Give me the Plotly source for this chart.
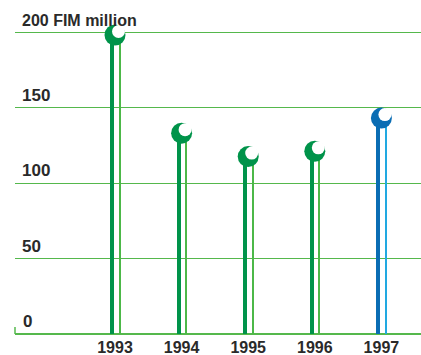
import plotly.graph_objects as go

# ---- data ----
years = [1993, 1994, 1995, 1996, 1997]
values = [198, 133, 117.5, 121, 143]
y_ticks = [0, 50, 100, 150, 200]
y_tick_labels = ["0", "50", "100", "150", "200 FIM million"]
dark_colors = ["#00934a", "#00934a", "#00934a", "#00934a", "#0a6db4"]
light_colors = ["#4cb848", "#4cb848", "#4cb848", "#4cb848", "#22a9e1"]

# ---- geometry (pixels -> data units) ----
W, H = 421, 355
ml, mr, mt, mb = 15, 0, 30, 19
px_per_year = 66.6
x_left = years[0] - (115 - ml) / px_per_year
x_right = years[0] + (W - 115) / px_per_year
plot_h = H - mt - mb
px_per_unit = 302 / 200.0
y_min = -2 / px_per_unit
y_max = y_min + plot_h / px_per_unit

def dx(px):
    return px / px_per_year

def dy(px):
    return px / px_per_unit

FONT = "Liberation Sans, Arial, sans-serif"
TEXT = "#2a2a2a"
GRID = "#55b84c"

fig = go.Figure()

# thick dark stem
fig.add_trace(go.Bar(
    x=years, y=values, base=0,
    width=dx(4), offset=dx(-5),
    marker=dict(color=dark_colors, line=dict(width=0)),
    hoverinfo="skip", showlegend=False,
))
# thin light stem
fig.add_trace(go.Bar(
    x=years, y=values, base=0,
    width=dx(2), offset=dx(3.5),
    marker=dict(color=light_colors, line=dict(width=0)),
    hoverinfo="skip", showlegend=False,
))
# ball head
fig.add_trace(go.Scatter(
    x=years, y=values, mode="markers",
    marker=dict(size=21, color=dark_colors, line=dict(width=0)),
    cliponaxis=False, hoverinfo="skip", showlegend=False,
))
# white highlight
fig.add_trace(go.Scatter(
    x=[y + dx(3.5) for y in years], y=[v + dy(3.5) for v in values],
    mode="markers",
    marker=dict(size=13, color="white", line=dict(width=0)),
    cliponaxis=False, hoverinfo="skip", showlegend=False,
))

# y labels above gridlines
for v, lab in zip(y_ticks, y_tick_labels):
    fig.add_annotation(
        x=0, xref="paper", y=v, yref="y",
        xanchor="left", yanchor="bottom",
        xshift=5 if v else 6, yshift=1,
        text="<b>" + lab + "</b>", showarrow=False,
        font=dict(family=FONT, size=16 if v == 200 else 17, color=TEXT),
    )

# small corner tick at bottom-left
fig.add_shape(type="line", xref="paper", yref="y",
              x0=0, x1=0, y0=0, y1=dy(7),
              line=dict(color=GRID, width=1.5))

fig.update_layout(
    width=W, height=H,
    margin=dict(l=ml, r=mr, t=mt, b=mb, autoexpand=False),
    paper_bgcolor="white", plot_bgcolor="white",
    barmode="overlay", bargap=0,
    showlegend=False,
    xaxis=dict(
        range=[x_left, x_right],
        tickmode="array", tickvals=years,
        ticktext=["<b>%d</b>" % y for y in years],
        tickfont=dict(family=FONT, size=16, color=TEXT),
        showgrid=False, zeroline=False, showline=False, ticks="",
        automargin=False, fixedrange=True,
    ),
    yaxis=dict(
        range=[y_min, y_max],
        tickmode="array", tickvals=y_ticks,
        showticklabels=False,
        showgrid=True, gridcolor=GRID, gridwidth=1.2,
        zeroline=True, zerolinecolor=GRID, zerolinewidth=1.5,
        showline=False, ticks="",
        automargin=False, fixedrange=True,
    ),
)

fig.write_html("out.html")
